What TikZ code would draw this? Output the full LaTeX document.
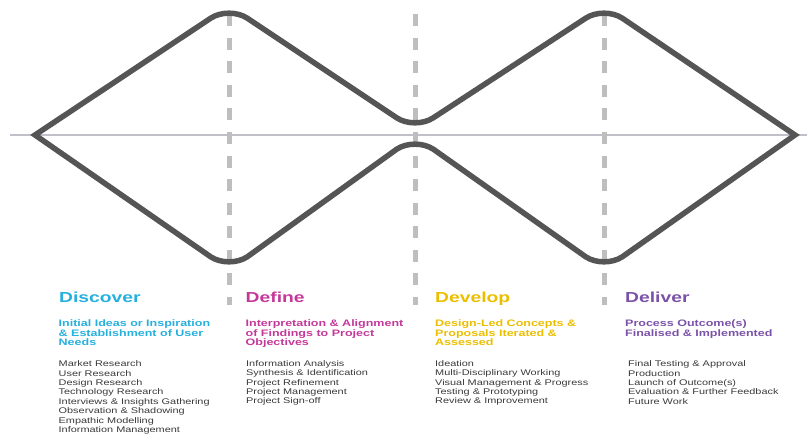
\documentclass[tikz,border=0pt]{standalone}
\usepackage{fontspec}
\setmainfont{Liberation Sans}
\newfontfamily\wide[FakeStretch=1.33]{Liberation Sans}

\definecolor{discover}{RGB}{38,176,222}
\definecolor{define}{RGB}{196,56,154}
\definecolor{develop}{RGB}{236,190,0}
\definecolor{deliver}{RGB}{122,82,168}
\definecolor{bodygray}{RGB}{58,58,58}
\definecolor{outlinegray}{RGB}{85,85,85}
\definecolor{axisgray}{RGB}{192,192,200}
\definecolor{dashgray}{RGB}{190,190,190}

\begin{document}
\begin{tikzpicture}[x=1pt, y=-1pt,
  axis/.style={draw=axisgray, line width=2.5pt},
  stage line/.style={draw=dashgray, line width=5pt, dash pattern=on 12pt off 11.5pt},
  diamond line/.style={draw=outlinegray, line width=5.5pt, line join=miter},
  stage/.style={anchor=north west, inner sep=0pt, font=\wide\bfseries\fontsize{14.5}{16}\selectfont},
  brief/.style={anchor=north west, inner sep=0pt, align=left, font=\wide\bfseries\fontsize{9.4}{9.5}\selectfont},
  tasks/.style={anchor=north west, inner sep=0pt, align=left, text=bodygray, font=\wide\fontsize{8.2}{9.45}\selectfont}]
  \useasboundingbox (0,0) rectangle (807,436);

  % horizon and stage dividers
  \draw[axis] (10,135) -- (807,135);
  \foreach \x in {229,415,604}
    \draw[stage line] (\x,14.5) -- (\x,305);

  % the double diamond
  \draw[diamond line] (35,135) -- (210.7,18.2) .. controls (220.8,11.5) and (237.2,11.5) .. (247.3,18.2)
    -- (396.7,117.8) .. controls (406.8,124.5) and (423.2,124.5) .. (433.3,117.8)
    -- (585.7,18.2) .. controls (595.8,11.5) and (612.2,11.5) .. (622.3,18.2)
    -- (795,135)
    -- (622.3,256.8) .. controls (612.2,263.5) and (595.8,263.5) .. (585.7,256.8)
    -- (433.3,149.2) .. controls (423.2,142.5) and (406.8,142.5) .. (396.7,149.2)
    -- (247.3,256.8) .. controls (237.2,263.5) and (220.8,263.5) .. (210.7,256.8)
    -- cycle;

  % discover
  \node[stage, text=discover] (discover) at (59,291.5) {Discover};
  \node[brief, text=discover] (discoverBrief) at (58.5,319.5)
    {Initial Ideas or Inspiration\\\& Establishment of User\\Needs};
  \node[tasks] (discoverTasks) at (58.5,360.5)
    {Market Research\\User Research\\Design Research\\Technology Research\\Interviews \& Insights Gathering\\Observation \& Shadowing\\Empathic Modelling\\Information Management};

  % define
  \node[stage, text=define] (define) at (245.5,291.5) {Define};
  \node[brief, text=define] (defineBrief) at (245.5,319.5)
    {Interpretation \& Alignment\\of Findings to Project\\Objectives};
  \node[tasks] (defineTasks) at (246,360)
    {Information Analysis\\Synthesis \& Identification\\Project Refinement\\Project Management\\Project Sign-off};

  % develop
  \node[stage, text=develop] (develop) at (435,291.5) {Develop};
  \node[brief, text=develop] (developBrief) at (435,319.5)
    {Design-Led Concepts \&\\Proposals Iterated \&\\Assessed};
  \node[tasks] (developTasks) at (435,360)
    {Ideation\\Multi-Disciplinary Working\\Visual Management \& Progress\\Testing \& Prototyping\\Review \& Improvement};

  % deliver
  \node[stage, text=deliver] (deliver) at (625,291.5) {Deliver};
  \node[brief, text=deliver] (deliverBrief) at (625,319.5)
    {Process Outcome(s)\\Finalised \& Implemented};
  \node[tasks] (deliverTasks) at (628,360.5)
    {Final Testing \& Approval\\Production\\Launch of Outcome(s)\\Evaluation \& Further Feedback\\Future Work};
\end{tikzpicture}
\end{document}
